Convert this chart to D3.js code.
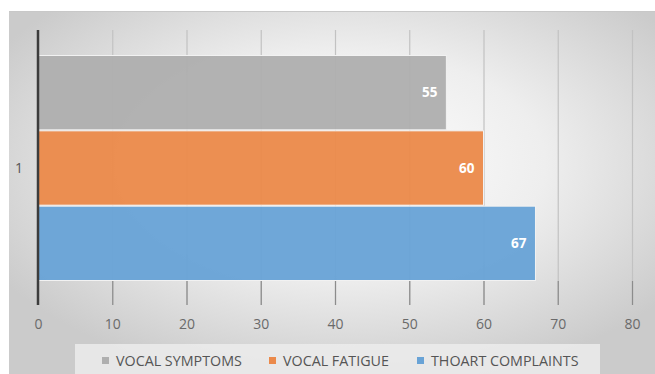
<!DOCTYPE html>
<html>
<head>
<meta charset="utf-8">
<script src="https://cdn.jsdelivr.net/npm/d3@7"></script>
<style>
  html, body { margin: 0; padding: 0; background: #ffffff; }
  svg { display: block; }
</style>
</head>
<body>
<svg id="chart" width="655" height="374"></svg>
<script>
// Series shown as horizontal bars for the single category "1"
const categories = ["1"];
const seriesNames = ["VOCAL SYMPTOMS", "VOCAL FATIGUE", "THOART COMPLAINTS"];
const seriesValues = [55, 60, 67];
const seriesColors = ["#afafaf", "#eb8a4b", "#69a3d6"];
const tickValues = [0, 10, 20, 30, 40, 50, 60, 70, 80];

const svg = d3.select("#chart");
const W = 655, H = 374;
const FONT = "Open Sans, sans-serif";

// Chart frame with a soft radial shading
const defs = svg.append("defs");
const grad = defs.append("radialGradient")
  .attr("id", "bg").attr("cx", "52%").attr("cy", "42%").attr("r", "62%");
grad.append("stop").attr("offset", "0%").attr("stop-color", "#ffffff");
grad.append("stop").attr("offset", "50%").attr("stop-color", "#eeeeee");
grad.append("stop").attr("offset", "100%").attr("stop-color", "#cbcbcb");

svg.append("rect").attr("x", 9).attr("y", 11).attr("width", W - 9).attr("height", H - 11)
  .attr("fill", "url(#bg)");
svg.append("line").attr("x1", 9).attr("x2", W).attr("y1", 11.5).attr("y2", 11.5)
  .attr("stroke", "#c8c8c8").attr("stroke-width", 1);

const x = d3.scaleLinear().domain([0, 80]).range([38, 632]);
const yCat = d3.scaleBand().domain(categories).range([55, 281]).padding(0);
const ySeries = d3.scaleBand().domain(seriesNames).range([0, yCat.bandwidth()]).padding(0);

const plotTop = 30, plotBottom = 305;

// Vertical gridlines
svg.append("g").selectAll("line").data(tickValues.slice(1)).join("line")
  .attr("x1", d => x(d) + 0.5).attr("x2", d => x(d) + 0.5)
  .attr("y1", plotTop).attr("y2", plotBottom)
  .attr("stroke", "#c2c2c2").attr("stroke-width", 1.2);

// Darker tick segments below the bars
svg.append("g").selectAll("line").data(tickValues.slice(1)).join("line")
  .attr("x1", d => x(d) + 0.5).attr("x2", d => x(d) + 0.5)
  .attr("y1", 281).attr("y2", plotBottom)
  .attr("stroke", "#8c8c8c").attr("stroke-width", 1.2);

// Bars with value labels
const barG = svg.append("g");
categories.forEach(cat => {
  seriesNames.forEach((name, i) => {
    const y0 = yCat(cat) + ySeries(name);
    barG.append("rect")
      .attr("x", x(0)).attr("y", y0 + 0.5)
      .attr("width", x(seriesValues[i]) - x(0))
      .attr("height", ySeries.bandwidth() - 1)
      .attr("fill", seriesColors[i])
      .attr("fill-opacity", 0.96)
      .attr("stroke", "#f2f2f2").attr("stroke-width", 1);
    barG.append("text")
      .attr("x", x(seriesValues[i]) - 9)
      .attr("y", y0 + ySeries.bandwidth() / 2)
      .attr("dy", "0.35em")
      .attr("text-anchor", "end")
      .attr("font-family", FONT)
      .attr("font-weight", "bold")
      .attr("font-size", 13.5)
      .attr("fill", "#ffffff")
      .text(seriesValues[i]);
  });
});

// Category axis line
svg.append("line").attr("x1", x(0)).attr("x2", x(0))
  .attr("y1", plotTop).attr("y2", plotBottom)
  .attr("stroke", "#3c3c3c").attr("stroke-width", 2.5);

// Category label
svg.append("g").selectAll("text").data(categories).join("text")
  .attr("x", 19).attr("y", d => yCat(d) + yCat.bandwidth() / 2)
  .attr("dy", "0.35em").attr("text-anchor", "middle")
  .attr("font-family", FONT).attr("font-size", 14)
  .attr("fill", "#555").text(d => d);

// Value axis labels
const xAxis = d3.axisBottom(x).tickValues(tickValues).tickSize(0).tickPadding(0);
const axG = svg.append("g").attr("transform", "translate(0,319)").call(xAxis);
axG.select(".domain").remove();
axG.selectAll("text")
  .attr("font-family", FONT).attr("font-size", 14)
  .attr("fill", "#6a6a6a");

// Legend
svg.append("rect").attr("x", 75).attr("y", 344).attr("width", 525).attr("height", 30)
  .attr("fill", "#ececec").attr("fill-opacity", 0.85);
const legendX = [102, 269, 417];
const lg = svg.append("g");
seriesNames.forEach((name, i) => {
  lg.append("rect").attr("x", legendX[i]).attr("y", 357).attr("width", 7).attr("height", 7)
    .attr("fill", seriesColors[i]);
  lg.append("text").attr("x", legendX[i] + 14).attr("y", 361).attr("dy", "0.35em")
    .attr("font-family", FONT).attr("font-size", 14.3)
    .attr("fill", "#555").text(name);
});
</script>
</body>
</html>
